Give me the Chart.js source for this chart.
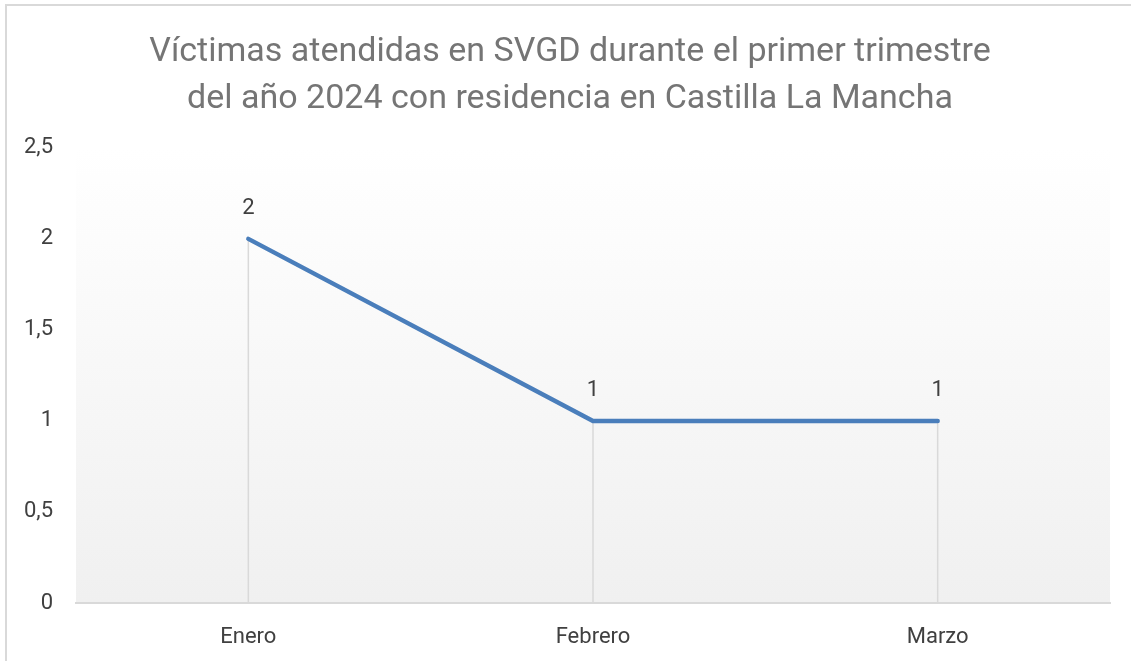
<!DOCTYPE html>
<html>
<head>
<meta charset="utf-8">
<script src="https://cdn.jsdelivr.net/npm/chart.js@4"></script>
<style>
  html, body { margin: 0; padding: 0; background: #fff; overflow: hidden; }
  #wrap {
    position: absolute; left: 5px; top: 4px;
    width: 1126px; height: 657px;
    border-left: 2px solid #d9d9d9; border-top: 2px solid #d9d9d9;
  }
</style>
</head>
<body>
<div id="wrap"><canvas id="chart" width="1126" height="657"></canvas></div>
<script>
// datos del gráfico
const titleLines = ['Víctimas atendidas en SVGD durante el primer trimestre', 'del año 2024 con residencia en Castilla La Mancha'];
const months = ['Enero', 'Febrero', 'Marzo'];
const victims = [2, 1, 1];
const yTickLabels = ['0', '0,5', '1', '1,5', '2', '2,5'];

const FONT = 'Roboto, "Noto Sans", sans-serif';

// fondo degradado del área de trazado
const plotBackground = {
  id: 'plotBackground',
  beforeDraw(chart) {
    const { ctx, chartArea: a } = chart;
    const g = ctx.createLinearGradient(0, a.top, 0, a.bottom);
    g.addColorStop(0, '#ffffff');
    g.addColorStop(1, '#f0f0f0');
    ctx.save();
    ctx.fillStyle = g;
    ctx.fillRect(a.left, a.top, a.right - a.left, a.bottom - a.top);
    ctx.restore();
  }
};

// líneas de proyección y etiquetas de datos
const dropLinesAndLabels = {
  id: 'dropLinesAndLabels',
  beforeDatasetsDraw(chart) {
    const { ctx, chartArea: a } = chart;
    const pts = chart.getDatasetMeta(0).data;
    ctx.save();
    ctx.strokeStyle = '#d9d9d9';
    ctx.lineWidth = 1.5;
    pts.forEach(p => {
      ctx.beginPath();
      ctx.moveTo(p.x, p.y);
      ctx.lineTo(p.x, a.bottom);
      ctx.stroke();
    });
    ctx.restore();
  },
  afterDatasetsDraw(chart) {
    const { ctx } = chart;
    const pts = chart.getDatasetMeta(0).data;
    ctx.save();
    ctx.fillStyle = '#404040';
    ctx.font = '22px ' + FONT;
    ctx.textAlign = 'center';
    ctx.textBaseline = 'middle';
    pts.forEach((p, i) => {
      ctx.fillText(String(victims[i]), p.x, p.y - 30);
    });
    ctx.restore();
  }
};

new Chart(document.getElementById('chart'), {
  type: 'line',
  data: {
    labels: months,
    datasets: [{
      data: victims,
      borderColor: '#4a7ebb',
      borderWidth: 4.5,
      borderCapStyle: 'round',
      borderJoinStyle: 'round',
      pointRadius: 0,
      tension: 0,
      fill: false
    }]
  },
  options: {
    responsive: false,
    animation: false,
    layout: { padding: { left: 0, right: 0, top: 0, bottom: 15 } },
    plugins: {
      legend: { display: false },
      tooltip: { enabled: false },
      title: {
        display: true,
        text: titleLines,
        color: '#757575',
        font: { family: FONT, size: 34, weight: 'normal', lineHeight: 1.38 },
        padding: { top: 23, bottom: 25 }
      }
    },
    scales: {
      x: {
        offset: true,
        afterFit(scale) { scale.height = 45; },
        grid: { display: false, drawTicks: false },
        border: { display: true, color: '#d9d9d9', width: 2 },
        ticks: { color: '#404040', font: { family: FONT, size: 22 }, padding: 21 }
      },
      y: {
        min: 0,
        max: 2.5,
        afterFit(scale) { scale.width = 69; },
        grid: { display: false, drawTicks: false },
        border: { display: false },
        ticks: {
          stepSize: 0.5,
          color: '#404040',
          font: { family: FONT, size: 22 },
          padding: 23,
          callback: (v, i) => yTickLabels[i]
        }
      },
      // eje vacío a la derecha para dejar margen sin descentrar el título
      yRight: {
        position: 'right',
        afterFit(scale) { scale.width = 23; },
        grid: { display: false, drawTicks: false },
        border: { display: false },
        ticks: { display: false }
      }
    }
  },
  plugins: [plotBackground, dropLinesAndLabels]
});
</script>
</body>
</html>
